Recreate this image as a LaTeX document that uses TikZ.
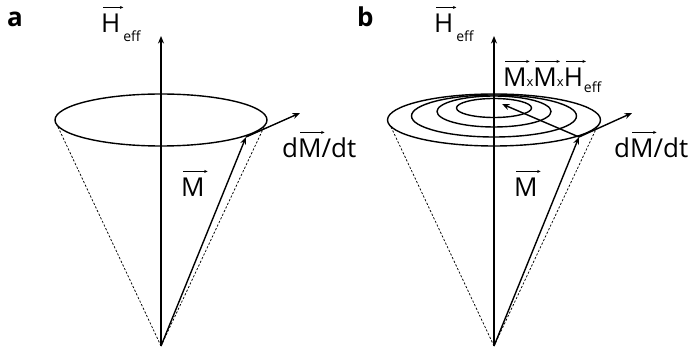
\documentclass[tikz,border=0pt]{standalone}
\usepackage{fontspec}
\setmainfont{Open Sans}
\usetikzlibrary{arrows.meta}
\tikzset{
 ax/.style={line width=1.4pt, -{Stealth[length=7.5pt,width=6pt]}},
 vecm/.style={line width=1.4pt, -{Stealth[length=7.5pt,width=6pt]}},
 cone/.style={line width=0.75pt, dash pattern=on 2.2pt off 1.8pt},
 ell/.style={line width=1.4pt},
 lbl/.style={inner sep=0pt, anchor=base west, font=\fontsize{26}{26}\selectfont},
 panel/.style={inner sep=0pt, anchor=base west, font=\fontsize{26}{26}\selectfont\bfseries},
 varr/.style={line width=0.6pt, -{Stealth[length=3.5pt,width=3pt]}},
}
\newcommand{\va}[1]{\tikz[baseline=(vv.base)]{\node[inner sep=0pt,outer sep=0pt](vv){#1};\draw[varr,overlay] ([xshift=2pt,yshift=7pt]vv.north west) -- ([xshift=3pt,yshift=7pt]vv.north east);}}
\newcommand{\lsub}[2]{\raisebox{-#1}{\fontsize{14}{14}\selectfont #2}}
\newcommand{\smx}{{\fontsize{13}{13}\selectfont x}}
\begin{document}
\begin{tikzpicture}[x=1pt,y=-1pt]
\useasboundingbox (0,0) rectangle (688,355);
% ---------- panel a ----------
\coordinate (aO) at (161,346);
\coordinate (aTop) at (161,36);
\coordinate (aC) at (161,120);
\coordinate (aL) at (58,127);
\coordinate (aR) at (264,127);
\coordinate (aM) at (246,137);
\coordinate (aD) at (300,113);
\draw[ell] (aC) ellipse [x radius=106pt, y radius=26pt];
\draw[cone] (aO) -- (aL);
\draw[cone] (aO) -- (aR);
\draw[ax] (aO) -- (aTop);
\draw[vecm] (aO) -- (aM);
\draw[vecm] (aM) -- (aD);
\node[panel] (la) at (7,27) {a};
\node[lbl] (lHa) at (101,33) {\va{H}\hspace{3pt}\lsub{9pt}{eff}};
\node[lbl] (lMa) at (181,197) {\va{M}};
\node[lbl] (lDa) at (282,158) {d\va{M}/dt};
% ---------- panel b ----------
\coordinate (bO) at (494,346);
\coordinate (bTop) at (494,36);
\coordinate (bL) at (391,127);
\coordinate (bR) at (597,127);
\coordinate (bM) at (579,137);
\coordinate (bD) at (632,113);
\coordinate (bX) at (502,104);
\coordinate (bC1) at (494,120);
\coordinate (bC2) at (494,116);
\coordinate (bC3) at (494,111.5);
\coordinate (bC4) at (494,108);
\draw[ell] (bC1) ellipse [x radius=106.5pt, y radius=26pt];
\draw[ell] (bC2) ellipse [x radius=82.5pt, y radius=21pt];
\draw[ell] (bC3) ellipse [x radius=57pt, y radius=15.5pt];
\draw[ell] (bC4) ellipse [x radius=37.5pt, y radius=9.5pt];
\draw[cone] (bO) -- (bL);
\draw[cone] (bO) -- (bR);
\draw[ax] (bO) -- (bTop);
\draw[vecm] (bO) -- (bM);
\draw[vecm] (bM) -- (bD);
\draw[vecm] (bM) -- (bX);
\node[panel] (lb) at (357,27) {b};
\node[lbl] (lHb) at (434,33) {\va{H}\hspace{3pt}\lsub{9pt}{eff}};
\node[lbl] (lXb) at (503,87) {\va{M}\smx\va{M}\smx\va{H}\hspace{1pt}\lsub{6pt}{eff}};
\node[lbl] (lMb) at (514,197) {\va{M}};
\node[lbl] (lDb) at (614,158) {d\va{M}/dt};
\end{tikzpicture}
\end{document}
